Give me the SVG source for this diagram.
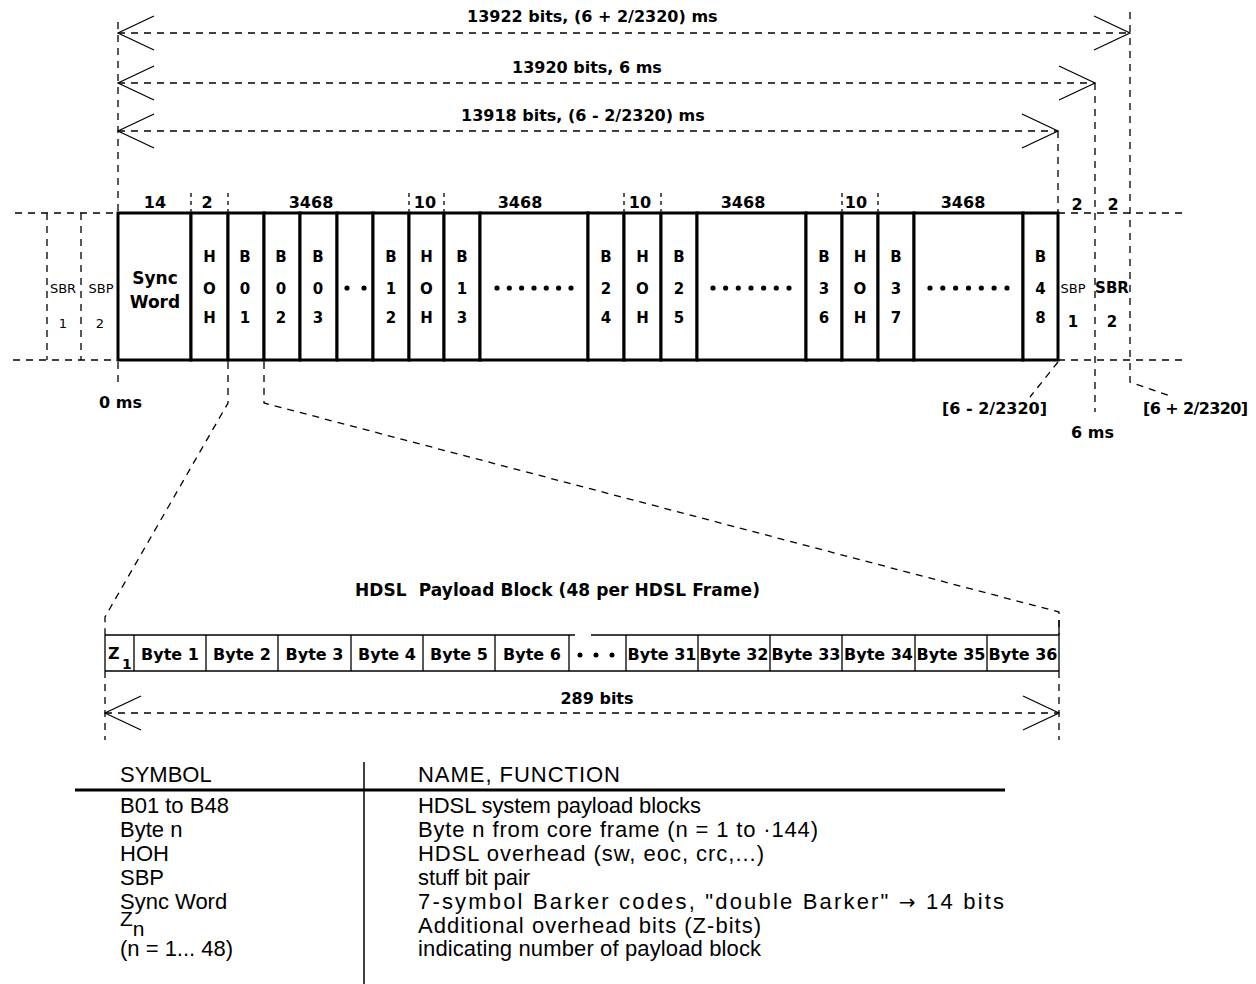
<svg xmlns="http://www.w3.org/2000/svg" width="1256" height="984" viewBox="0 0 1256 984">
<style>
.frame{fill:#fff;stroke:#000;stroke-width:3}
.dash{fill:none;stroke:#000;stroke-width:1.3;stroke-dasharray:7 6}
.tick{fill:none;stroke:#000;stroke-width:1.3;stroke-dasharray:4 4}
.b{font-family:"DejaVu Sans",Verdana,sans-serif;font-weight:bold;font-size:16px;fill:#000}
.c{font-family:"DejaVu Sans",Verdana,sans-serif;font-weight:bold;font-size:15px;fill:#000;text-anchor:middle}
.n{font-family:"DejaVu Sans",Verdana,sans-serif;font-size:13px;fill:#000;text-anchor:middle}
.m{text-anchor:middle}
.t{font-family:"Liberation Sans",Arial,sans-serif;font-size:22px;fill:#000}
.dot{fill:#000}
</style>
<defs>
<marker id="arr" markerUnits="userSpaceOnUse" viewBox="-38 -19 40 38" refX="0" refY="0" markerWidth="40" markerHeight="38" orient="auto-start-reverse" overflow="visible">
<path d="M-36,-17 L0,0 L-36,17" fill="none" stroke="#000" stroke-width="1.2"/>
</marker>
</defs>
<rect width="1256" height="984" fill="#fff"/>

<g id="connectors">
<line class="dash" x1="118" y1="33" x2="1130" y2="33" marker-start="url(#arr)" marker-end="url(#arr)"/>
<line class="dash" x1="118" y1="83" x2="1095" y2="83" marker-start="url(#arr)" marker-end="url(#arr)"/>
<line class="dash" x1="118" y1="131" x2="1058" y2="131" marker-start="url(#arr)" marker-end="url(#arr)"/>
<line class="dash" x1="118" y1="22" x2="118" y2="213"/>
<line class="dash" x1="118" y1="362" x2="118" y2="386"/>
<line class="dash" x1="1058" y1="131" x2="1058" y2="213"/>
<line class="dash" x1="1095" y1="83" x2="1095" y2="412"/>
<polyline class="dash" points="1130,12 1130,382 1173,397"/>
<line class="dash" x1="1058" y1="362" x2="1030" y2="397"/>
<line class="dash" x1="15" y1="213" x2="118" y2="213"/>
<line class="dash" x1="13" y1="360" x2="118" y2="360"/>
<line class="dash" x1="47" y1="213" x2="47" y2="360"/>
<line class="dash" x1="81" y1="213" x2="81" y2="360"/>
<line class="dash" x1="1058" y1="213" x2="1185" y2="213"/>
<line class="dash" x1="1058" y1="360" x2="1188" y2="360"/>
<path class="tick" d="M191,193V211 M228,193V211 M409,193V211 M444,193V211 M624,193V211 M661,193V211 M842,193V211 M878,193V211"/>
<polyline class="dash" points="228,362 228,403 105,617 105,635"/>
<polyline class="dash" points="264,362 264,403 1059,612 1059,635"/>
<line class="dash" x1="105" y1="671" x2="105" y2="740"/>
<line class="dash" x1="1059" y1="671" x2="1059" y2="740"/>
<line class="dash" x1="105" y1="713" x2="1059" y2="713" marker-start="url(#arr)" marker-end="url(#arr)"/>
</g>

<g id="dimension-labels">
<text class="b" x="467" y="22">13922 bits, (6 + 2/2320) ms</text>
<text class="b" x="512" y="73">13920 bits, 6 ms</text>
<text class="b" x="461" y="121">13918 bits, (6 - 2/2320) ms</text>
<text class="b m" x="155" y="208">14</text>
<text class="b m" x="207" y="208">2</text>
<text class="b m" x="311" y="208">3468</text>
<text class="b m" x="425" y="208">10</text>
<text class="b m" x="520" y="208">3468</text>
<text class="b m" x="640" y="208">10</text>
<text class="b m" x="743" y="208">3468</text>
<text class="b m" x="856" y="208">10</text>
<text class="b m" x="963" y="208">3468</text>
<text class="b m" x="1077" y="210">2</text>
<text class="b m" x="1113" y="210">2</text>
<text class="b" x="99" y="408">0 ms</text>
<text class="b" x="942" y="414">[6 - 2/2320]</text>
<text class="b" x="1071" y="438">6 ms</text>
<text class="b" x="1143" y="414" textLength="105">[6 + 2/2320]</text>
<text class="b" x="355" y="596" style="font-size:17px;white-space:pre" textLength="405">HDSL  Payload Block (48 per HDSL Frame)</text>
<text class="b m" x="597" y="704">289 bits</text>
</g>

<g id="sbp-left">
<text class="n" x="63" y="293">SBR</text>
<text class="n" x="63" y="328">1</text>
<text class="n" x="101" y="293">SBP</text>
<text class="n" x="100" y="328">2</text>
</g>
<g id="sbp-right">
<text class="n" x="1073" y="293">SBP</text>
<text class="c" x="1073" y="327">1</text>
<text class="c" x="1112" y="293">SBR</text>
<text class="c" x="1112" y="327">2</text>
</g>

<g id="sync-word"><rect class="frame" x="118" y="213" width="73" height="147"/><text class="c" x="155" y="284" style="font-size:17px">Sync</text><text class="c" x="155" y="308" style="font-size:17px">Word</text></g>
<g id="hoh-1"><rect class="frame" x="191" y="213" width="37" height="147"/><text class="c" x="209.5" y="262">H</text><text class="c" x="209.5" y="294">O</text><text class="c" x="209.5" y="323">H</text></g>
<g id="b01"><rect class="frame" x="228" y="213" width="36" height="147"/><text class="c" x="245" y="262">B</text><text class="c" x="245" y="294">0</text><text class="c" x="245" y="323">1</text></g>
<g id="b02"><rect class="frame" x="264" y="213" width="36" height="147"/><text class="c" x="281" y="262">B</text><text class="c" x="281" y="294">0</text><text class="c" x="281" y="323">2</text></g>
<g id="b03"><rect class="frame" x="300" y="213" width="37" height="147"/><text class="c" x="318" y="262">B</text><text class="c" x="318" y="294">0</text><text class="c" x="318" y="323">3</text></g>
<g id="dots-1"><rect class="frame" x="337" y="213" width="36" height="147"/><circle class="dot" cx="347" cy="288" r="2.6"/><circle class="dot" cx="364" cy="288" r="2.6"/></g>
<g id="b12"><rect class="frame" x="373" y="213" width="36" height="147"/><text class="c" x="391" y="262">B</text><text class="c" x="391" y="294">1</text><text class="c" x="391" y="323">2</text></g>
<g id="hoh-2"><rect class="frame" x="409" y="213" width="35" height="147"/><text class="c" x="426.5" y="262">H</text><text class="c" x="426.5" y="294">O</text><text class="c" x="426.5" y="323">H</text></g>
<g id="b13"><rect class="frame" x="444" y="213" width="36" height="147"/><text class="c" x="462" y="262">B</text><text class="c" x="462" y="294">1</text><text class="c" x="462" y="323">3</text></g>
<g id="dots-2"><rect class="frame" x="480" y="213" width="108" height="147"/>
<circle class="dot" cx="497" cy="288" r="2.6"/><circle class="dot" cx="509.3" cy="288" r="2.6"/><circle class="dot" cx="521.6" cy="288" r="2.6"/><circle class="dot" cx="534" cy="288" r="2.6"/><circle class="dot" cx="546.3" cy="288" r="2.6"/><circle class="dot" cx="558.6" cy="288" r="2.6"/><circle class="dot" cx="571" cy="288" r="2.6"/></g>
<g id="b24"><rect class="frame" x="588" y="213" width="36" height="147"/><text class="c" x="606" y="262">B</text><text class="c" x="606" y="294">2</text><text class="c" x="606" y="323">4</text></g>
<g id="hoh-3"><rect class="frame" x="624" y="213" width="37" height="147"/><text class="c" x="642.5" y="262">H</text><text class="c" x="642.5" y="294">O</text><text class="c" x="642.5" y="323">H</text></g>
<g id="b25"><rect class="frame" x="661" y="213" width="36" height="147"/><text class="c" x="679" y="262">B</text><text class="c" x="679" y="294">2</text><text class="c" x="679" y="323">5</text></g>
<g id="dots-3"><rect class="frame" x="697" y="213" width="109" height="147"/>
<circle class="dot" cx="713" cy="288" r="2.6"/><circle class="dot" cx="725.6" cy="288" r="2.6"/><circle class="dot" cx="738.3" cy="288" r="2.6"/><circle class="dot" cx="751" cy="288" r="2.6"/><circle class="dot" cx="763.6" cy="288" r="2.6"/><circle class="dot" cx="776.3" cy="288" r="2.6"/><circle class="dot" cx="789" cy="288" r="2.6"/></g>
<g id="b36"><rect class="frame" x="806" y="213" width="36" height="147"/><text class="c" x="824" y="262">B</text><text class="c" x="824" y="294">3</text><text class="c" x="824" y="323">6</text></g>
<g id="hoh-4"><rect class="frame" x="842" y="213" width="36" height="147"/><text class="c" x="860" y="262">H</text><text class="c" x="860" y="294">O</text><text class="c" x="860" y="323">H</text></g>
<g id="b37"><rect class="frame" x="878" y="213" width="36" height="147"/><text class="c" x="896" y="262">B</text><text class="c" x="896" y="294">3</text><text class="c" x="896" y="323">7</text></g>
<g id="dots-4"><rect class="frame" x="914" y="213" width="109" height="147"/>
<circle class="dot" cx="930" cy="288" r="2.6"/><circle class="dot" cx="942.8" cy="288" r="2.6"/><circle class="dot" cx="955.6" cy="288" r="2.6"/><circle class="dot" cx="968.5" cy="288" r="2.6"/><circle class="dot" cx="981.3" cy="288" r="2.6"/><circle class="dot" cx="994.1" cy="288" r="2.6"/><circle class="dot" cx="1007" cy="288" r="2.6"/></g>
<g id="b48"><rect class="frame" x="1023" y="213" width="35" height="147"/><text class="c" x="1040.5" y="262">B</text><text class="c" x="1040.5" y="294">4</text><text class="c" x="1040.5" y="323">8</text></g>

<g id="payload-block">
<rect x="105" y="635" width="954" height="36" fill="#fff"/>
<path d="M105,635H575 M591,635H1059 M105,671H1059 M105,635V671 M1059,620V671 M134,635V671 M206,635V671 M278,635V671 M351,635V671 M423,635V671 M495,635V671 M569,635V671 M626,635V671 M698,635V671 M770,635V671 M842,635V671 M915,635V671 M987,635V671" fill="none" stroke="#000" stroke-width="1.3"/>
<text class="b" x="108" y="659">Z</text><text class="b" x="122" y="669" style="font-size:14px">1</text>
<text class="b m" x="170" y="660">Byte 1</text>
<text class="b m" x="242" y="660">Byte 2</text>
<text class="b m" x="314.5" y="660">Byte 3</text>
<text class="b m" x="387" y="660">Byte 4</text>
<text class="b m" x="459" y="660">Byte 5</text>
<text class="b m" x="532" y="660">Byte 6</text>
<circle class="dot" cx="580" cy="655" r="2.5"/><circle class="dot" cx="596" cy="655" r="2.5"/><circle class="dot" cx="612" cy="655" r="2.5"/>
<text class="b m" x="662" y="660">Byte 31</text>
<text class="b m" x="734" y="660">Byte 32</text>
<text class="b m" x="806" y="660">Byte 33</text>
<text class="b m" x="878.5" y="660">Byte 34</text>
<text class="b m" x="951" y="660">Byte 35</text>
<text class="b m" x="1023" y="660">Byte 36</text>
</g>

<g id="legend">
<line x1="75" y1="790" x2="1005" y2="790" stroke="#000" stroke-width="3"/>
<line x1="364" y1="762" x2="364" y2="984" stroke="#000" stroke-width="1.5"/>
<text class="t" x="120" y="782">SYMBOL</text>
<text class="t" x="418" y="782" textLength="202">NAME, FUNCTION</text>
<text class="t" x="120" y="813">B01 to B48</text>
<text class="t" x="418" y="813" textLength="283">HDSL system payload blocks</text>
<text class="t" x="120" y="837">Byte n</text>
<text class="t" x="418" y="837" textLength="400">Byte n from core frame (n = 1 to ·144)</text>
<text class="t" x="120" y="861">HOH</text>
<text class="t" x="418" y="861" textLength="346">HDSL overhead (sw, eoc, crc,...)</text>
<text class="t" x="120" y="885">SBP</text>
<text class="t" x="418" y="885" textLength="112">stuff bit pair</text>
<text class="t" x="120" y="909">Sync Word</text>
<text class="t" x="418" y="909" textLength="586">7-symbol Barker codes, "double Barker" <tspan style="font-family:'DejaVu Sans',sans-serif;font-size:20px">→</tspan> 14 bits</text>
<text class="t" x="120" y="926" style="font-size:21px">Z<tspan dy="10">n</tspan></text>
<text class="t" x="418" y="933" textLength="343">Additional overhead bits (Z-bits)</text>
<text class="t" x="120" y="956">(n = 1... 48)</text>
<text class="t" x="418" y="956" textLength="343">indicating number of payload block</text>
</g>
</svg>
